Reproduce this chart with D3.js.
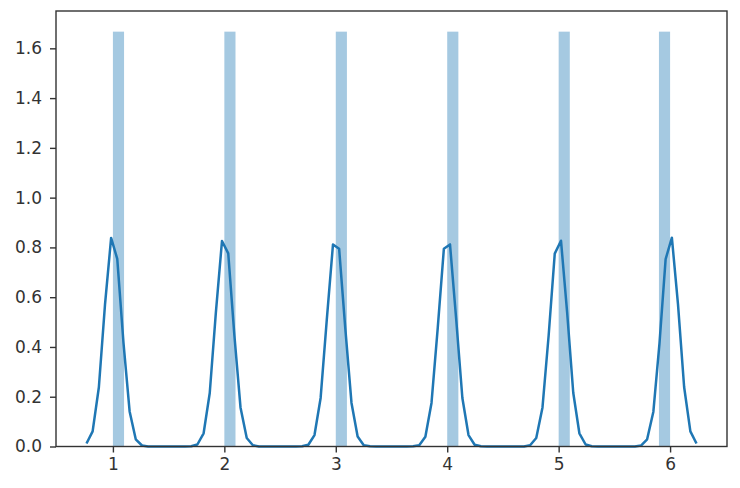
<!DOCTYPE html>
<html>
<head>
<meta charset="utf-8">
<script src="https://cdn.jsdelivr.net/npm/d3@7"></script>
<style>
  body { margin: 0; background: #fff; }
  text { font-family: "DejaVu Sans", sans-serif; }
</style>
</head>
<body>
<svg id="chart" width="740" height="488"></svg>
<script>
// histogram bins (width 0.1) that hold the dice faces
const binLeft = [1.0, 2.0, 3.0, 4.0, 5.0, 5.9];
const binWidth = 0.1;
const binDensity = [1.667, 1.667, 1.667, 1.667, 1.667, 1.667];

// kde curve
const kdeX = [0.763, 0.818, 0.874, 0.929, 0.984, 1.039, 1.095, 1.150, 1.205, 1.261,
  1.316, 1.371, 1.426, 1.482, 1.537, 1.592, 1.648, 1.703, 1.758, 1.814,
  1.869, 1.924, 1.979, 2.035, 2.090, 2.145, 2.201, 2.256, 2.311, 2.366,
  2.422, 2.477, 2.532, 2.588, 2.643, 2.698, 2.754, 2.809, 2.864, 2.919,
  2.975, 3.030, 3.085, 3.141, 3.196, 3.251, 3.307, 3.362, 3.417, 3.472,
  3.528, 3.583, 3.638, 3.694, 3.749, 3.804, 3.859, 3.915, 3.970, 4.025,
  4.081, 4.136, 4.191, 4.246, 4.302, 4.357, 4.412, 4.468, 4.523, 4.578,
  4.634, 4.689, 4.744, 4.799, 4.855, 4.910, 4.965, 5.021, 5.076, 5.131,
  5.186, 5.242, 5.297, 5.352, 5.408, 5.463, 5.518, 5.574, 5.629, 5.684,
  5.739, 5.794, 5.850, 5.905, 5.960, 6.016, 6.071, 6.126, 6.182, 6.237];
const kdeY = [0.012, 0.061, 0.238, 0.570, 0.838, 0.754, 0.416, 0.141, 0.029, 0.004,
  0.000, 0.000, 0.000, 0.000, 0.000, 0.000, 0.000, 0.001, 0.008, 0.053,
  0.215, 0.539, 0.826, 0.776, 0.447, 0.157, 0.034, 0.005, 0.000, 0.000,
  0.000, 0.000, 0.000, 0.000, 0.000, 0.001, 0.007, 0.046, 0.195, 0.508,
  0.812, 0.795, 0.477, 0.175, 0.040, 0.005, 0.001, 0.000, 0.000, 0.000,
  0.000, 0.000, 0.000, 0.001, 0.005, 0.039, 0.175, 0.477, 0.795, 0.812,
  0.509, 0.195, 0.046, 0.007, 0.001, 0.000, 0.000, 0.000, 0.000, 0.000,
  0.000, 0.000, 0.005, 0.034, 0.157, 0.445, 0.775, 0.827, 0.540, 0.216,
  0.053, 0.008, 0.001, 0.000, 0.000, 0.000, 0.000, 0.000, 0.000, 0.000,
  0.004, 0.029, 0.140, 0.415, 0.753, 0.839, 0.571, 0.239, 0.061, 0.012];

const xTicks = [1, 2, 3, 4, 5, 6];
const yTicks = [0.0, 0.2, 0.4, 0.6, 0.8, 1.0, 1.2, 1.4, 1.6];

const svg = d3.select('#chart');
const margin = { left: 56, right: 13, top: 11, bottom: 41.5 };
const width = +svg.attr('width');
const height = +svg.attr('height');
const innerWidth = width - margin.left - margin.right;
const innerHeight = height - margin.top - margin.bottom;
const color = '#1f77b4';
const ink = '#333';

const g = svg.append('g')
    .attr('transform', `translate(${margin.left},${margin.top})`);

const xScale = d3.scaleLinear()
    .domain([0.4893, 6.5107])
    .range([0, innerWidth]);

const yScale = d3.scaleLinear()
    .domain([0, 1.75])
    .range([innerHeight, 0]);

// bars
g.selectAll('rect.bar')
  .data(binLeft)
  .enter().append('rect')
    .attr('class', 'bar')
    .attr('x', d => xScale(d))
    .attr('width', d => xScale(d + binWidth) - xScale(d))
    .attr('y', (d, i) => yScale(binDensity[i]))
    .attr('height', (d, i) => yScale(0) - yScale(binDensity[i]))
    .attr('fill', color)
    .attr('fill-opacity', 0.4);

// kde line
g.append('path')
    .datum(kdeX.map((x, i) => [x, kdeY[i]]))
    .attr('fill', 'none')
    .attr('stroke', color)
    .attr('stroke-width', 2.5)
    .attr('stroke-linejoin', 'round')
    .attr('d', d3.line()
      .x(d => xScale(d[0]))
      .y(d => yScale(d[1])));

// axes
const xAxis = d3.axisBottom(xScale)
    .tickValues(xTicks)
    .tickFormat(d3.format('d'))
    .tickSize(6)
    .tickPadding(5);

const yAxis = d3.axisLeft(yScale)
    .tickValues(yTicks)
    .tickFormat(d3.format('.1f'))
    .tickSize(6)
    .tickPadding(8);

const xAxisG = g.append('g')
    .attr('transform', `translate(0,${innerHeight})`)
    .call(xAxis);
const yAxisG = g.append('g').call(yAxis);

[xAxisG, yAxisG].forEach(a => {
  a.select('.domain').remove();
  a.selectAll('line').attr('stroke', ink).attr('stroke-width', 1.4);
  a.selectAll('text').attr('fill', ink).style('font-size', '17px');
});

// frame
g.append('rect')
    .attr('width', innerWidth)
    .attr('height', innerHeight)
    .attr('fill', 'none')
    .attr('stroke', ink)
    .attr('stroke-width', 1.4);
</script>
</body>
</html>
